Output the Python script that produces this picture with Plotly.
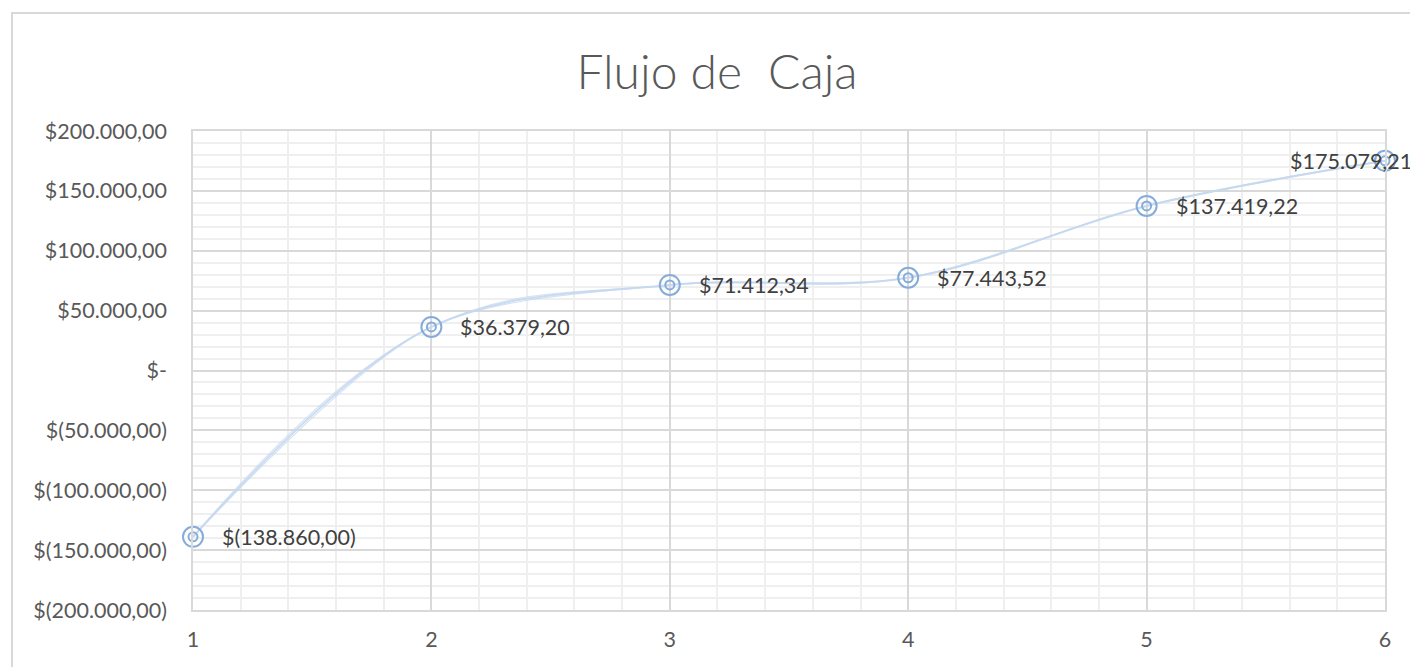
import plotly.graph_objects as go

periods = [1, 2, 3, 4, 5, 6]
cash_flow = [-138860.00, 36379.20, 71412.34, 77443.52, 137419.22, 175079.21]
labels = ["$(138.860,00)", "$36.379,20", "$71.412,34", "$77.443,52", "$137.419,22", "$175.079,21"]
ytick_vals = [200000, 150000, 100000, 50000, 0, -50000, -100000, -150000, -200000]
ytick_text = ["$200.000,00", "$150.000,00", "$100.000,00", "$50.000,00", "$-",
              "$(50.000,00)", "$(100.000,00)", "$(150.000,00)", "$(200.000,00)"]

FONT = "Lato"
TXT = "#595959"
LINE = "#c6d9f0"
MARK = "#86acdb"

fig = go.Figure()
# sketch-style line: several thin smoothed strokes of the same data
for sm, w, op in [(1.0, 2.0, 0.9), (1.15, 1.2, 0.75), (0.85, 1.2, 0.75)]:
    fig.add_trace(go.Scatter(x=periods, y=cash_flow, mode="lines",
                             line=dict(color=LINE, width=w, shape="spline", smoothing=sm),
                             opacity=op, hoverinfo="skip", showlegend=False,
                             cliponaxis=False))
fig.add_trace(go.Scatter(x=periods, y=cash_flow, mode="markers", cliponaxis=False,
                         marker=dict(symbol="circle-open", size=20, color=MARK,
                                     line=dict(color=MARK, width=2)),
                         showlegend=False))
fig.add_trace(go.Scatter(x=periods, y=cash_flow, mode="markers", cliponaxis=False,
                         marker=dict(symbol="circle-open", size=9, color=MARK,
                                     line=dict(color=MARK, width=2)),
                         showlegend=False))

for i, (x, y, t) in enumerate(zip(periods, cash_flow, labels)):
    last = i == len(periods) - 1
    fig.add_annotation(x=x, y=y, text=t, showarrow=False,
                       xanchor="right" if last else "left",
                       xshift=29 if last else 27,
                       font=dict(family=FONT, size=21.5, color="#404040"))

fig.update_layout(
    width=1418, height=667,
    paper_bgcolor="white", plot_bgcolor="white",
    margin=dict(l=185, r=41, t=123, b=65),
    title=dict(text="Flujo de  Caja", x=0.5, xanchor="center", xref="container",
               y=0.904, yanchor="middle", yref="container",
               font=dict(family="Lato", size=48, color=TXT, weight=300)),
    xaxis=dict(range=[1, 6], tickvals=periods, ticktext=[str(p) for p in periods],
               showgrid=True, gridcolor="#d9d9d9", gridwidth=1.5,
               minor=dict(dtick=0.2, showgrid=True, gridcolor="#efefef", gridwidth=1.5),
               showline=True, linecolor="#d9d9d9", linewidth=1.5, mirror=True,
               zeroline=False, ticks="", ticklabelstandoff=9,
               tickfont=dict(family=FONT, size=21.5, color=TXT)),
    yaxis=dict(range=[-200000, 200000], tickvals=ytick_vals, ticktext=ytick_text,
               showgrid=True, gridcolor="#d9d9d9", gridwidth=1.5,
               minor=dict(dtick=10000, showgrid=True, gridcolor="#efefef", gridwidth=1.5),
               showline=True, linecolor="#d9d9d9", linewidth=1.5, mirror=True,
               zeroline=False, ticks="", ticklabelstandoff=20,
               tickfont=dict(family=FONT, size=21.5, color=TXT)),
    shapes=[dict(type="rect", xref="paper", yref="paper",
                 x0=(12 - 193) / 1192, x1=1.08, y0=-0.2, y1=(610 - 13) / 479,
                 line=dict(color="#d9d9d9", width=2), layer="below")],
)

fig.write_html("out.html")
